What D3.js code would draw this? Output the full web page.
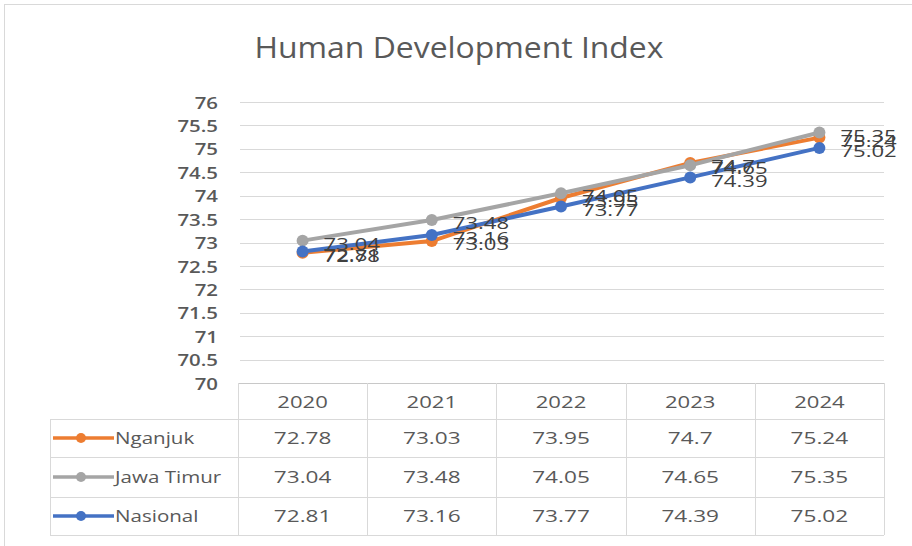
<!DOCTYPE html>
<html><head><meta charset="utf-8">
<script src="https://cdn.jsdelivr.net/npm/d3@7"></script>
<style>html,body{margin:0;padding:0;background:#fff;}svg{display:block;}</style>
</head><body>
<svg id="chart" width="912" height="546"></svg>
<script>
const title = "Human Development Index";
const years = ["2020", "2021", "2022", "2023", "2024"];
const seriesNames = ["Nganjuk", "Jawa Timur", "Nasional"];
const nganjuk = [72.78, 73.03, 73.95, 74.7, 75.24];
const jawaTimur = [73.04, 73.48, 74.05, 74.65, 75.35];
const nasional = [72.81, 73.16, 73.77, 74.39, 75.02];
const yTicks = [70, 70.5, 71, 71.5, 72, 72.5, 73, 73.5, 74, 74.5, 75, 75.5, 76];
const colors = ["#ED7D31", "#A5A5A5", "#4472C4"];

const series = [nganjuk, jawaTimur, nasional].map((v, i) => ({name: seriesNames[i], values: v, color: colors[i]}));

const svg = d3.select("#chart");
const font = "'Open Sans', 'Liberation Sans', sans-serif";
const textCol = "#595959";

function stretched(sel, px, py, sx) {
  return sel.attr("x", 0).attr("y", 0)
    .attr("transform", (d, i) => `translate(${typeof px === "function" ? px(d, i) : px},${typeof py === "function" ? py(d, i) : py}) scale(${sx},1)`);
}

// outer frame
svg.append("rect").attr("x", 4.5).attr("y", 4.5).attr("width", 940).attr("height", 600)
  .attr("fill", "#fff").attr("stroke", "#d9d9d9").attr("stroke-width", 1);

const x = d3.scaleBand().domain(years).range([238, 884]);
const y = d3.scaleLinear().domain([70, 76]).range([383, 102]);
const cxOf = j => x(years[j]) + x.bandwidth() / 2;

// title
stretched(svg.append("text"), 459, 58, 1.1).attr("text-anchor", "middle")
  .attr("font-family", font).attr("font-size", 29).attr("fill", textCol).text(title);

// gridlines
svg.append("g").selectAll("line").data(yTicks.filter(t => t > 70)).join("line")
  .attr("x1", 240).attr("x2", 884)
  .attr("y1", d => Math.round(y(d)) + 0.5).attr("y2", d => Math.round(y(d)) + 0.5)
  .attr("stroke", "#d9d9d9").attr("stroke-width", 1);

// y axis labels
const yAxis = d3.axisLeft(y).tickValues(yTicks).tickSize(0).tickPadding(0).tickFormat(d => String(d));
const gy = svg.append("g").attr("transform", "translate(218,0)").call(yAxis);
gy.select(".domain").remove();
gy.selectAll("text").attr("font-family", font).attr("font-size", 17).attr("font-weight", 600)
  .attr("fill", textCol).attr("dy", "0.36em").attr("transform", "scale(1.2,1)");

// table
const rowTops = [383, 419, 457, 497, 535];
const tg = svg.append("g");
const lineCol = "#d9d9d9";
tg.append("line").attr("x1", 238).attr("x2", 884).attr("y1", 383.5).attr("y2", 383.5).attr("stroke", "#c8c8c8");
[419, 457, 497, 535].forEach(r => {
  tg.append("line").attr("x1", 50).attr("x2", 884).attr("y1", r + 0.5).attr("y2", r + 0.5).attr("stroke", lineCol);
});
tg.append("line").attr("x1", 50.5).attr("x2", 50.5).attr("y1", 419).attr("y2", 535).attr("stroke", lineCol);
const colEdges = years.map(d => x(d)).concat([884]);
colEdges.forEach(cx => {
  tg.append("line").attr("x1", Math.round(cx) + 0.5).attr("x2", Math.round(cx) + 0.5)
    .attr("y1", 383).attr("y2", 535).attr("stroke", lineCol);
});
// header
stretched(tg.selectAll("text.hdr").data(years).join("text").attr("class", "hdr"),
  (d) => x(d) + x.bandwidth() / 2, 402, 1.3)
  .attr("dy", "0.36em").attr("text-anchor", "middle").attr("font-family", font).attr("font-size", 17)
  .attr("fill", textCol).text(d => d);
// rows
series.forEach((s, i) => {
  const cy = (rowTops[i + 1] + rowTops[i + 2]) / 2;
  tg.append("line").attr("x1", 53).attr("x2", 114).attr("y1", cy).attr("y2", cy)
    .attr("stroke", s.color).attr("stroke-width", 3.5);
  tg.append("circle").attr("cx", 81).attr("cy", cy).attr("r", 5).attr("fill", s.color);
  stretched(tg.append("text"), 115, cy, 1.21).attr("dy", "0.36em")
    .attr("font-family", font).attr("font-size", 17).attr("fill", textCol).text(s.name);
  stretched(tg.selectAll(null).data(s.values).join("text"), (d, j) => cxOf(j), cy, 1.33)
    .attr("dy", "0.36em").attr("text-anchor", "middle").attr("font-family", font).attr("font-size", 17)
    .attr("fill", textCol).text(d => String(d));
});

// lines
const line = d3.line().x((d, j) => cxOf(j)).y(d => y(d));
series.forEach(s => {
  svg.append("path").datum(s.values).attr("d", line).attr("fill", "none")
    .attr("stroke", s.color).attr("stroke-width", 4).attr("stroke-linejoin", "round");
  svg.append("g").selectAll("circle").data(s.values).join("circle")
    .attr("cx", (d, j) => cxOf(j)).attr("cy", d => y(d)).attr("r", 6).attr("fill", s.color);
});
// data labels (overlap as in the reference)
series.forEach(s => {
  stretched(svg.append("g").selectAll("text").data(s.values).join("text"),
    (d, j) => cxOf(j) + 21, d => y(d) + 3, 1.3)
    .attr("dy", "0.36em").attr("font-family", font).attr("font-size", 17).attr("fill", "#404040")
    .text(d => String(d));
});
</script>
</body></html>
